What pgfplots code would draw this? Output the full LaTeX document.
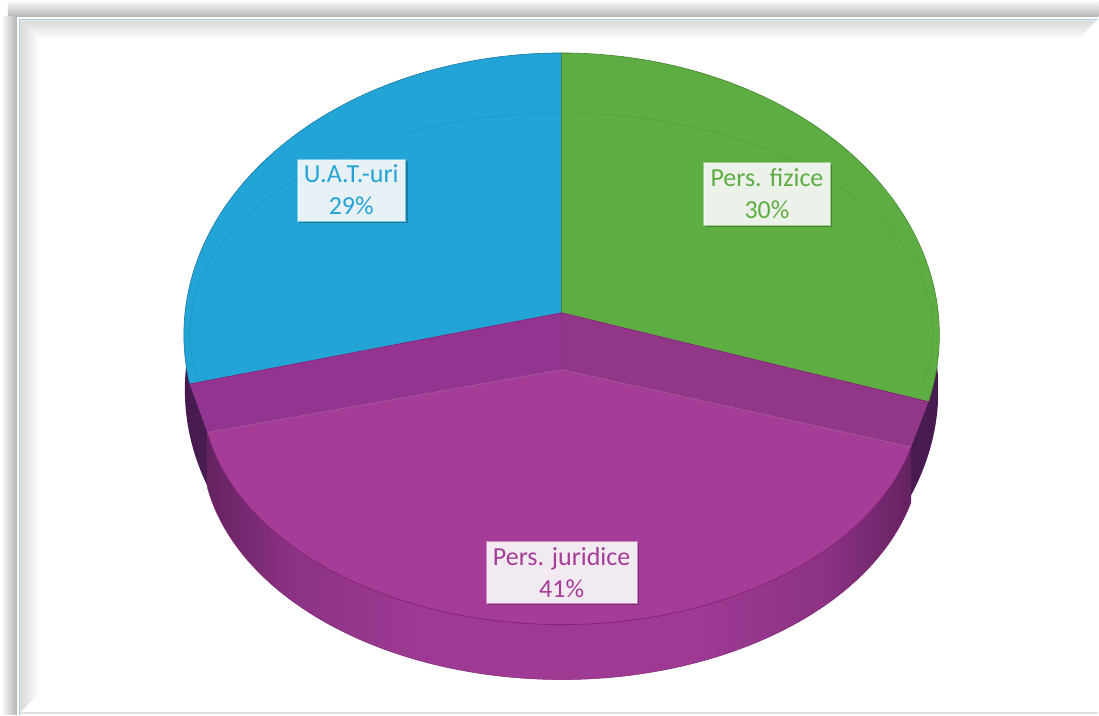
\documentclass[border=0pt]{standalone}
\usepackage{pgfplots}
\pgfplotsset{compat=1.18}
\usepackage{pgfplotstable}
\usepackage{fontspec}
\setmainfont{Carlito}
\usetikzlibrary{calc,shadows}

\definecolor{cBlue}{RGB}{35,164,214}
\definecolor{cBlueEdge}{RGB}{28,120,160}
\definecolor{cBlueRim}{RGB}{30,152,202}
\definecolor{cGreen}{RGB}{94,173,67}
\definecolor{cGreenEdge}{RGB}{70,135,50}
\definecolor{cGreenRim}{RGB}{86,162,60}
\definecolor{cPurple}{RGB}{165,60,152}
\definecolor{cPurpleEdge}{RGB}{130,38,118}
\definecolor{cBandL}{RGB}{147,52,145}
\definecolor{cBandR}{RGB}{146,54,136}
\definecolor{cSide}{RGB}{158,58,148}
\definecolor{cSideMid}{RGB}{140,50,132}
\definecolor{cSideDark}{RGB}{100,34,96}
\definecolor{cBack}{RGB}{70,26,80}
\definecolor{cBackMid}{RGB}{120,42,112}
\definecolor{cFrameBlue}{RGB}{170,205,225}

\pgfdeclarehorizontalshading{sidewall}{100bp}{color(0bp)=(cSideDark); color(25bp)=(cSideDark);
  color(31bp)=(cSideMid); color(40bp)=(cSide); color(60bp)=(cSide); color(69bp)=(cSideMid);
  color(75bp)=(cSideDark); color(100bp)=(cSideDark)}

% data: share of each category (percent)
\pgfplotstableread[col sep=comma]{
name,value
Pers. fizice,30
Pers. juridice,41
U.A.T.-uri,29
}\piedata
\pgfplotstablegetelem{0}{value}\of\piedata \edef\vG{\pgfplotsretval}
\pgfplotstablegetelem{1}{value}\of\piedata \edef\vP{\pgfplotsretval}
\pgfplotstablegetelem{2}{value}\of\piedata \edef\vB{\pgfplotsretval}
% true boundary angles (first slice starts at 12 o'clock, clockwise)
\pgfmathsetmacro\phiG{90-3.6*\vG}
\pgfmathsetmacro\phiB{\phiG-3.6*\vP}
% perspective: pie centre seen above the centre of the rim ellipse
\pgfmathsetmacro\vz{22/282}
\pgfmathsetmacro\sG{sin(\phiG)}\pgfmathsetmacro\cG{cos(\phiG)}
\pgfmathsetmacro\tG{-\vz*\sG+sqrt(\vz*\vz*\sG*\sG-\vz*\vz+1)}
\pgfmathsetmacro\thG{atan2(\vz+\tG*\sG,\tG*\cG)}
\pgfmathsetmacro\sB{sin(\phiB)}\pgfmathsetmacro\cB{cos(\phiB)}
\pgfmathsetmacro\tB{-\vz*\sB+sqrt(\vz*\vz*\sB*\sB-\vz*\vz+1)}
\pgfmathsetmacro\thB{atan2(\vz+\tB*\sB,\tB*\cB)}
\pgfmathsetmacro\thBp{\thB+360}
\pgfmathsetmacro\thGp{\thG+360}

\begin{document}
\begin{tikzpicture}
\begin{axis}[
  x=1pt, y=1pt,
  xmin=0, xmax=1099, ymin=0, ymax=715,
  hide axis, clip=false,
]
% bounding box
\path (axis cs:0,0) rectangle (axis cs:1099,715);

% ---- frame ----
\shade[top color=gray!4, bottom color=gray!60] (axis cs:8,698) rectangle (axis cs:1099,714);
\shade[left color=gray!4, right color=gray!60] (axis cs:2,0) rectangle (axis cs:17,698);
\fill[white] (axis cs:17,0) rectangle (axis cs:1099,698);
\draw[cFrameBlue, line width=1.2pt] (axis cs:19.5,0) -- (axis cs:19.5,695.5) -- (axis cs:1099,695.5);
\shade[top color=gray!30, bottom color=white] (axis cs:20.5,694.5) -- (axis cs:1097,694.5) -- (axis cs:1079,676) -- (axis cs:39,676) -- cycle;
\shade[left color=gray!30, right color=white] (axis cs:20.5,694.5) -- (axis cs:39,676) -- (axis cs:39,21) -- (axis cs:20.5,2.5) -- cycle;
\draw[gray!25, line width=1.5pt] (axis cs:20,1.5) -- (axis cs:1099,1.5);

% ---- pie geometry ----
\coordinate (C) at (axis cs:562,380);
\coordinate (V) at (axis cs:562,402);
\coordinate (Cp) at (axis cs:562,323);
\coordinate (Vp) at (axis cs:562,345);
\coordinate (Top) at ($(C)+(90:378pt and 282pt)$);
\coordinate (Gc) at ($(C)+(\thG:378pt and 282pt)$);
\coordinate (Bc) at ($(C)+(\thB:378pt and 282pt)$);
\coordinate (PR) at ($(Cp)+(\thG:360pt and 233pt)$);
\coordinate (PL) at ($(Cp)+(\thB:360pt and 233pt)$);
\coordinate (PRb) at ($(PR)+(0,-55pt)$);

% back side wall of the two slices that stay in place
\shade[left color=cBack, right color=cBack, middle color=cBackMid] (axis cs:562,325) ellipse[x radius=377pt, y radius=282pt];

% green and blue top faces
\fill[cGreen] (V) -- (Top) arc[start angle=90, end angle=\thG, x radius=378pt, y radius=282pt] -- cycle;
\fill[cBlue] (V) -- (Top) arc[start angle=90, end angle=\thBp, x radius=378pt, y radius=282pt] -- cycle;
% inner rim
\draw[cGreenRim, line width=0.8pt] (axis cs:562,602) arc[start angle=90, end angle=-15, x radius=372pt, y radius=220pt];
\draw[cBlueRim, line width=0.8pt] (axis cs:562,602) arc[start angle=90, end angle=194, x radius=372pt, y radius=220pt];
% outlines
\draw[cGreenEdge, line width=0.6pt] (Top) arc[start angle=90, end angle=\thG, x radius=378pt, y radius=282pt];
\draw[cBlueEdge, line width=0.6pt] (Top) arc[start angle=90, end angle=\thBp, x radius=378pt, y radius=282pt];
\draw[cGreenEdge!80!cBlueEdge, line width=0.6pt] (V) -- (Top);

% walls between the slices and the exploded slice
\fill[cBandL] (V) -- (Bc) -- (PL) -- (Vp) -- cycle;
\fill[cBandR] (V) -- (Gc) -- (PR) -- (Vp) -- cycle;
\draw[cPurpleEdge, line width=0.6pt] (Bc) -- (V) -- (Gc);

% exploded purple slice: outer wall
\shade[shading=sidewall]
  (PL) arc[start angle=\thBp, end angle=\thGp, x radius=360pt, y radius=233pt]
  -- (PRb) arc[start angle=\thGp, end angle=\thBp, x radius=360pt, y radius=233pt] -- cycle;
% purple top face
\fill[cPurple] (Vp) -- (PR) arc[start angle=\thG, end angle=\thB, x radius=360pt, y radius=233pt] -- cycle;
\draw[cPurpleEdge, line width=0.8pt] (PR) arc[start angle=\thG, end angle=\thB, x radius=360pt, y radius=233pt];
\draw[cPurpleEdge!70, line width=0.5pt] (PL) -- (Vp) -- (PR);
\draw[cPurpleEdge, line width=0.5pt] (PRb) arc[start angle=\thGp, end angle=\thBp, x radius=360pt, y radius=233pt];

% ---- data labels ----
\tikzset{lbl/.style={fill=white, fill opacity=0.9, text opacity=1, draw=#1!60, line width=0.6pt,
  inner xsep=7pt, inner ysep=6pt, align=center, text=#1,
  font=\fontsize{26}{32}\selectfont,
  drop shadow={opacity=0.25, shadow xshift=2pt, shadow yshift=-2pt, fill=black}}}
\node[lbl=cBlue] at (axis cs:351.5,525) {U.A.T.-uri\\\vB\%};
\node[lbl=cGreen] at (axis cs:767.5,521) {Pers. fizice\\\vG\%};
\node[lbl=cPurple] at (axis cs:562,142.5) {Pers. juridice\\\vP\%};
\end{axis}
\end{tikzpicture}
\end{document}
